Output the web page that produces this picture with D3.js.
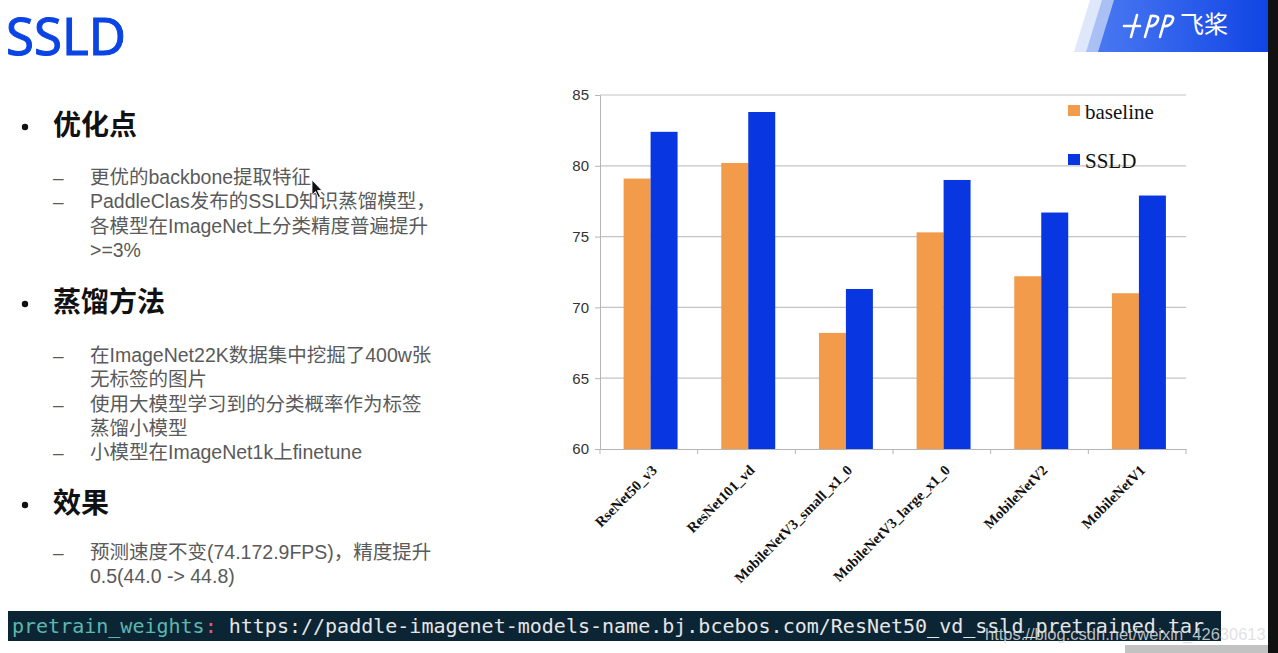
<!DOCTYPE html>
<html>
<head>
<meta charset="utf-8">
<script src="https://cdn.jsdelivr.net/npm/d3@7"></script>
<style>
  body { margin: 0; background: #fff; }
  svg { display: block; }
</style>
</head>
<body>
<div id="slide"></div>
<script>
// chart data
const categories = ["RseNet50_v3", "ResNet101_vd", "MobileNetV3_small_x1_0", "MobileNetV3_large_x1_0", "MobileNetV2", "MobileNetV1"]
const baseline = [79.1, 80.2, 68.2, 75.3, 72.2, 71.0]
const ssld = [82.4, 83.8, 71.3, 79.0, 76.7, 77.9]
const seriesNames = ["baseline", "SSLD"]
const yTicks = [60, 65, 70, 75, 80, 85]

// slide text
const headings = ["优化点", "蒸馏方法", "效果"]
const items1 = [["更优的backbone提取特征"], ["PaddleClas发布的SSLD知识蒸馏模型，", "各模型在ImageNet上分类精度普遍提升", ">=3%"]]
const items2 = [["在ImageNet22K数据集中挖掘了400w张", "无标签的图片"], ["使用大模型学习到的分类概率作为标签", "蒸馏小模型"], ["小模型在ImageNet1k上finetune"]]
const items3 = [["预测速度不变(74.172.9FPS)，精度提升", "0.5(44.0 -> 44.8)"]]
const codeKey = "pretrain_weights"
const codeUrl = "https://paddle-imagenet-models-name.bj.bcebos.com/ResNet50_vd_ssld_pretrained.tar"

const W = 1278, H = 653
const colors = ["#f29b4b", "#0836e0"]

const svg = d3.select("#slide").append("svg")
  .attr("width", W).attr("height", H)

// ---- title + logo ----
svg.append("text")
  .attr("x", 6).attr("y", 55)
  .attr("font-family", "'Noto Sans', 'Open Sans', sans-serif")
  .attr("font-size", 51)
  .attr("fill", "#0a44e4")
  .attr("stroke", "#0a44e4").attr("stroke-width", 1)
  .text("SSLD")

const grad = svg.append("defs").append("linearGradient").attr("id", "lg")
grad.append("stop").attr("offset", "0%").attr("stop-color", "#4a78f2")
grad.append("stop").attr("offset", "100%").attr("stop-color", "#0f44e4")

svg.append("path").attr("d", "M1074,52 L1090,0 L1104,0 L1088,52 Z").attr("fill", "#dfe7fb")
svg.append("path").attr("d", "M1086,52 L1102,0 L1116,0 L1100,52 Z").attr("fill", "#aac0f5")
svg.append("path").attr("d", "M1098,52 L1114,0 L1270,0 L1270,52 Z").attr("fill", "url(#lg)")

const logo = svg.append("g").attr("stroke", "#fff").attr("stroke-width", 2.6)
  .attr("fill", "none").attr("stroke-linecap", "round")
logo.append("path").attr("d", "M1124,26 L1140,26 M1137,15 L1131,37")
logo.append("path").attr("d", "M1145,37 L1151,16 Q1161,15 1157,22 Q1154,27 1148,26")
logo.append("path").attr("d", "M1160,37 L1166,16 Q1176,15 1172,22 Q1169,27 1163,26")
svg.append("text")
  .attr("x", 1180).attr("y", 33)
  .attr("font-family", "'Noto Sans CJK SC', sans-serif")
  .attr("font-size", 24).attr("fill", "#fff")
  .text("飞桨")

// ---- bullets ----
const cjk = "'Liberation Sans', Arial, 'Noto Sans CJK SC', sans-serif"

function section(title, cy, items, firstY) {
  svg.append("circle").attr("cx", 25).attr("cy", cy + 2).attr("r", 3.2).attr("fill", "#111")
  svg.append("text")
    .attr("x", 53).attr("y", cy + 10)
    .attr("font-family", "'Noto Sans CJK SC', sans-serif")
    .attr("font-weight", "bold")
    .attr("font-size", 28).attr("fill", "#111")
    .text(title)
  let yy = firstY
  items.forEach(lines => {
    svg.append("text")
      .attr("x", 53).attr("y", yy + 7)
      .attr("font-family", cjk).attr("font-size", 19)
      .attr("fill", "#5a5a5a").text("–")
    lines.forEach(line => {
      svg.append("text")
        .attr("x", 90).attr("y", yy + 7)
        .attr("font-family", cjk).attr("font-size", 19.5)
        .attr("fill", "#5a5a5a").text(line)
      yy += 24.3
    })
  })
}
section(headings[0], 125, items1, 177)
section(headings[1], 302, items2, 355)
section(headings[2], 503, items3, 552)

// mouse cursor
svg.append("path")
  .attr("d", "M312,180 L312,195 L315.5,191.5 L318.5,197.5 L320.5,196.5 L317.5,190.5 L322,190.5 Z")
  .attr("fill", "#111").attr("stroke", "#fff").attr("stroke-width", 0.8)

// ---- chart ----
const plotLeft = 600, plotRight = 1186, plotTop = 95, plotBottom = 449

const x = d3.scaleBand()
  .domain(categories)
  .range([plotLeft, plotRight])
  .padding(0)

const xSub = d3.scaleBand()
  .domain(seriesNames)
  .range([0, x.bandwidth()])
  .paddingInner(0)
  .paddingOuter(0.81)
  .align(0.54)

const y = d3.scaleLinear()
  .domain([60, 85])
  .range([plotBottom, plotTop])

// gridlines
svg.append("g")
  .selectAll("line")
  .data(yTicks.slice(1))
  .join("line")
    .attr("x1", plotLeft).attr("x2", plotRight)
    .attr("y1", d => y(d)).attr("y2", d => y(d))
    .attr("stroke", "#c4c4c4").attr("stroke-width", 1.2)

function yAxis(g) {
  g.attr("transform", `translate(${plotLeft},0)`)
    .call(d3.axisLeft(y).tickValues(yTicks).tickSize(5).tickPadding(6))
    .attr("font-size", 15)
    .attr("font-family", "'Liberation Sans', Arial, sans-serif")
  g.select(".domain").attr("stroke", "#b5b5b5")
  g.selectAll(".tick line").attr("stroke", "#b5b5b5")
  g.selectAll(".tick text").attr("fill", "#333")
}

svg.append("g").call(yAxis)

const groups = svg.append("g")
  .selectAll("g")
  .data(categories)
  .join("g")
    .attr("transform", d => `translate(${x(d)},0)`)

groups.selectAll("rect")
  .data((d, i) => [baseline[i], ssld[i]].map((v, j) => ({ key: seriesNames[j], v })))
  .join("rect")
    .attr("x", d => xSub(d.key))
    .attr("y", d => y(d.v))
    .attr("width", xSub.bandwidth())
    .attr("height", d => y(60) - y(d.v))
    .attr("fill", (d, j) => colors[j])

function xAxis(g) {
  g.attr("transform", `translate(0,${plotBottom})`)
    .call(d3.axisBottom(x).tickSize(0).tickFormat(""))
  g.select(".domain").attr("stroke", "#b5b5b5").attr("stroke-width", 1.2)
}
svg.append("g").call(xAxis)

// boundary ticks on x axis
svg.append("g")
  .selectAll("line")
  .data(categories.concat([null]))
  .join("line")
    .attr("x1", d => d ? x(d) : plotRight).attr("x2", d => d ? x(d) : plotRight)
    .attr("y1", plotBottom).attr("y2", plotBottom + 5)
    .attr("stroke", "#b5b5b5")

// rotated category labels
svg.append("g")
  .selectAll("text")
  .data(categories)
  .join("text")
    .attr("transform", d => `translate(${x(d) + x.bandwidth() / 2 + 9},${plotBottom + 22}) rotate(-45)`)
    .attr("text-anchor", "end")
    .attr("font-family", "'Liberation Serif', 'Times New Roman', serif")
    .attr("font-weight", "bold")
    .attr("font-size", 14.5)
    .attr("fill", "#111")
    .text(d => d)

// legend
const legend = svg.append("g")
  .selectAll("g")
  .data(seriesNames)
  .join("g")
    .attr("transform", (d, i) => `translate(1068,${105 + i * 49})`)
legend.append("rect").attr("width", 12).attr("height", 11).attr("fill", (d, i) => colors[i])
legend.append("text")
  .attr("x", 17).attr("y", 14)
  .attr("font-family", "'Liberation Serif', 'Times New Roman', serif")
  .attr("font-size", 21).attr("fill", "#111")
  .text(d => d)

// ---- code bar ----
svg.append("rect").attr("x", 8).attr("y", 611).attr("width", 1213).attr("height", 30).attr("fill", "#0c2535")
const code = svg.append("text")
  .attr("x", 12).attr("y", 633)
  .attr("font-family", "'DejaVu Sans Mono', monospace")
  .attr("font-size", 20)
code.append("tspan").attr("fill", "#5cb8ae").text(codeKey)
code.append("tspan").attr("fill", "#e2637f").text(":")
code.append("tspan").attr("fill", "#e6e6e6").text(" " + codeUrl)

svg.append("rect").attr("x", 1125).attr("y", 645).attr("width", 145).attr("height", 8).attr("fill", "#c2c2c2")
svg.append("text")
  .attr("x", 985).attr("y", 640)
  .attr("font-family", "'Liberation Sans', Arial, sans-serif")
  .attr("font-size", 16.5)
  .attr("fill", "#dcdcdc").attr("fill-opacity", 0.85)
  .text("https://blog.csdn.net/weixin_42630613")

// right dark edge of the screenshot
svg.append("rect").attr("x", 1268).attr("y", 0).attr("width", 10).attr("height", H).attr("fill", "#111")
</script>
</body>
</html>
